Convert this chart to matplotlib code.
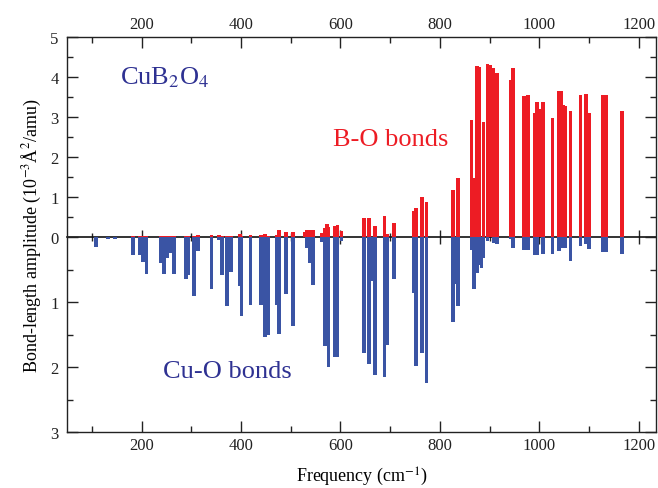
import numpy as np
import matplotlib
matplotlib.use("Agg")
import matplotlib.pyplot as plt
from matplotlib.ticker import MultipleLocator, FixedLocator

# ---- data (frequency in cm^-1, amplitudes in 10^-3 A^2/amu) ----
freq = [108, 132, 146, 183, 197, 203, 210, 239, 245, 251, 258, 266, 289, 293,
        306, 313, 341, 356, 362, 372, 380, 398, 401, 419, 440, 449, 455, 472,
        476, 490, 504, 529, 532, 539, 545, 562, 569, 573, 576, 589, 594, 602,
        647, 658, 665, 669, 689, 695, 708, 747, 752, 764, 773, 826, 833, 836,
        864, 869, 875, 879, 884, 888, 896, 901, 908, 915, 943, 947, 970, 977,
        991, 995, 999, 1007, 1027, 1040, 1044, 1048, 1052, 1063, 1083, 1094,
        1100, 1128, 1134, 1166]
bo_amp = [0, 0, 0, 0.03, 0.02, 0.03, 0.02, 0.03, 0.02, 0.03, 0.03, 0.03, 0.03, 0.02,
          0.03, 0.05, 0.05, 0.05, 0.04, 0.04, 0.02, 0.08, 0.03, 0.05, 0.05, 0.08, 0.04, 0.05,
          0.18, 0.13, 0.12, 0.12, 0.17, 0.19, 0.18, 0.10, 0.24, 0.33, 0.25, 0.28, 0.30, 0.15,
          0.49, 0.49, 0, 0.29, 0.53, 0.07, 0.35, 0.65, 0.73, 1.00, 0.89, 1.17, 0, 1.47,
          2.94, 1.47, 4.27, 4.25, 0, 2.88, 4.33, 4.31, 4.23, 4.10, 3.92, 4.23, 3.52, 3.55,
          3.09, 3.38, 3.19, 3.37, 2.97, 3.66, 3.66, 3.29, 3.27, 3.15, 3.56, 3.58,
          3.10, 3.55, 3.54, 3.16]
cuo_amp = [0.15, 0.02, 0.03, 0.28, 0.28, 0.38, 0.57, 0.39, 0.57, 0.32, 0.24, 0.57, 0.64, 0.58,
           0.90, 0.21, 0.79, 0.04, 0.58, 1.05, 0.53, 0.75, 1.21, 1.04, 1.04, 1.53, 1.50, 1.04,
           1.49, 0.87, 1.37, 0, 0.17, 0.40, 0.73, 0.07, 1.67, 0, 2.00, 1.84, 1.84, 0.05,
           1.78, 1.95, 0.67, 2.12, 2.15, 1.65, 0.64, 0.85, 1.98, 1.78, 2.24, 1.30, 0.72, 1.06,
           0.20, 0.79, 0.55, 0.43, 0.48, 0.32, 0.06, 0, 0.09, 0.11, 0.03, 0.16, 0.19, 0.19,
           0.28, 0.28, 0, 0.25, 0.26, 0.21, 0, 0.16, 0.16, 0.37, 0.13, 0.10,
           0.18, 0.23, 0.23, 0.26]

y_ticks = [-3, -2, -1, 0, 1, 2, 3, 4, 5]
y_ticklabels = ["3", "2", "1", "0", "1", "2", "3", "4", "5"]
x_ticks = [200, 400, 600, 800, 1000, 1200]

RED = "#ed1c24"
BLUE = "#3a54a4"
NAVY = "#2e3192"

plt.rcParams['font.family'] = ['Liberation Serif', 'DejaVu Serif']
plt.rcParams['mathtext.fontset'] = 'stix'

K = 1.625  # stretch of the lower (Cu-O) half


def fwd(y):
    y = np.asarray(y, dtype=float)
    return np.where(y >= 0, y, K * y)


def inv(y):
    y = np.asarray(y, dtype=float)
    return np.where(y >= 0, y, y / K)


fig = plt.figure(figsize=(6.58, 4.89), dpi=100)
ax = fig.add_axes([0.1018, 0.1135, 0.8952, 0.8088])
ax.set_yscale('function', functions=(fwd, inv))

w = 7.5
ax.bar(freq, bo_amp, width=w, color=RED, linewidth=0, zorder=2)
ax.bar(freq, [-v for v in cuo_amp], width=w, color=BLUE, linewidth=0, zorder=2)

ax.set_xlim(50, 1235)
ax.set_ylim(-3, 5)

ax.yaxis.set_major_locator(FixedLocator(y_ticks))
ax.set_yticklabels(y_ticklabels)
ax.yaxis.set_minor_locator(FixedLocator(np.arange(-3, 5.01, 0.5)))
ax.xaxis.set_major_locator(FixedLocator(x_ticks))
ax.xaxis.set_minor_locator(MultipleLocator(100))

ax.tick_params(which='both', direction='in', top=True, right=True,
               labeltop=True, labelsize=12, colors='#222222', width=1)
ax.tick_params(axis='y', which='major', pad=6)
ax.tick_params(which='major', length=8)
ax.tick_params(which='minor', length=4)
for s in ax.spines.values():
    s.set_color('#222222')
    s.set_linewidth(1.0)

# zero line with crossing ticks
frac0 = (fwd(0) - fwd(-3)) / (fwd(5) - fwd(-3))
sec = ax.secondary_xaxis(float(frac0))
sec.xaxis.set_major_locator(FixedLocator(x_ticks))
sec.xaxis.set_minor_locator(MultipleLocator(100))
sec.tick_params(which='both', direction='inout', labelbottom=False, labeltop=False,
                colors='#222222', width=1)
sec.tick_params(which='major', length=10)
sec.tick_params(which='minor', length=6)
sec.spines['bottom'].set_linewidth(1.2)
sec.spines['bottom'].set_color('#111111')

ax.set_xlabel(r"Frequency (cm$^{-1}$)", fontsize=13, labelpad=8)
ax.set_ylabel(r"Bond-length amplitude (10$^{-3}$Å$^2$/amu)", fontsize=13, labelpad=5)

ax.text(156, 4.0, r"CuB$_2$O$_4$", color=NAVY, fontsize=19, va='center', ha='left')
ax.text(585, 2.46, "B-O bonds", color=RED, fontsize=19, va='center', ha='left')
ax.text(243, -2.05, "Cu-O bonds", color=NAVY, fontsize=19, va='center', ha='left')

fig.savefig("out.png", dpi=100)
